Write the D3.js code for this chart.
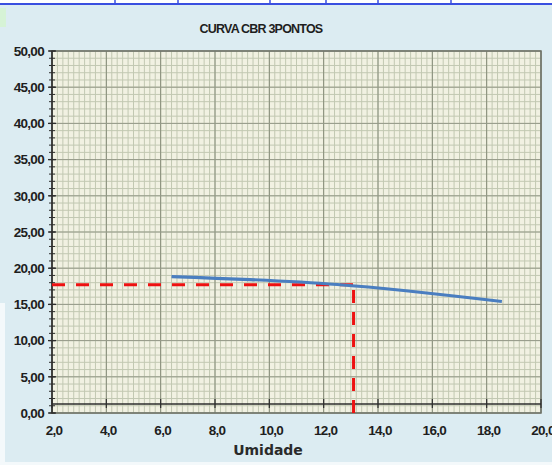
<!DOCTYPE html>
<html><head><meta charset="utf-8">
<script src="https://cdn.jsdelivr.net/npm/d3@7"></script>
<style>body{margin:0;background:#fff}svg{display:block}</style>
</head><body>
<script>
// Data
const title = "CURVA CBR 3PONTOS";
const xLabel = "Umidade";
const xTicks = [2,4,6,8,10,12,14,16,18,20];
const yTicks = [0,5,10,15,20,25,30,35,40,45,50];
const curveX = [6.4, 12.5, 18.56];
const curveY = [18.85, 17.75, 15.4];
const refX = [2, 13.1];      // horizontal dashed guide
const refY = [17.7, 17.7];
const vertX = [13.1, 13.1];  // vertical dashed guide
const vertY = [0, 17.7];
const xAxisCross = 1.25;

const W = 552, H = 465;
const svg = d3.select("body").append("svg").attr("width", W).attr("height", H);

// background
svg.append("rect").attr("width", W).attr("height", H).attr("fill", "#dcecf2");
svg.append("rect").attr("x",0).attr("y",0).attr("width",W).attr("height",4).attr("fill","#ffffff");
svg.append("rect").attr("x",0).attr("y",303).attr("width",5).attr("height",H-303).attr("fill","#f4f9fb");
svg.append("rect").attr("x",0).attr("y",462).attr("width",W).attr("height",3).attr("fill","#f4f9fb");
svg.append("rect").attr("x",0).attr("y",8).attr("width",6).attr("height",19).attr("fill","#d6f3d6");
svg.append("line").attr("x1",0).attr("x2",W).attr("y1",4).attr("y2",4).attr("stroke","#3a4fe0").attr("stroke-width",2);
[115,178,270,326,378,451].forEach(v=>svg.append("line").attr("x1",v).attr("x2",v).attr("y1",0).attr("y2",4).attr("stroke","#3a4fe0").attr("stroke-width",1.5));

const x = d3.scaleLinear().domain([2,20]).range([52,541]);
const y = d3.scaleLinear().domain([0,50]).range([413,51]);

const g = svg.append("g");
g.append("rect").attr("x",x(2)).attr("y",y(50)).attr("width",x(20)-x(2)).attr("height",y(0)-y(50)).attr("fill","#f1f1e2");

// minor grid
const xMinor = d3.range(2, 20.0001, 0.2);
const yMinor = d3.range(0, 50.0001, 1);
g.selectAll(".vx").data(xMinor).join("line")
  .attr("x1",d=>x(d)).attr("x2",d=>x(d)).attr("y1",y(0)).attr("y2",y(50))
  .attr("stroke","#c2c8b2").attr("stroke-width",1);
g.selectAll(".hy").data(yMinor).join("line")
  .attr("x1",x(2)).attr("x2",x(20)).attr("y1",d=>y(d)).attr("y2",d=>y(d))
  .attr("stroke","#c2c8b2").attr("stroke-width",1);
// major grid
g.selectAll(".vX").data(xTicks).join("line")
  .attr("x1",d=>x(d)).attr("x2",d=>x(d)).attr("y1",y(0)).attr("y2",y(50))
  .attr("stroke","#868c7a").attr("stroke-width",1);
g.selectAll(".hY").data(yTicks).join("line")
  .attr("x1",x(2)).attr("x2",x(20)).attr("y1",d=>y(d)).attr("y2",d=>y(d))
  .attr("stroke","#959a89").attr("stroke-width",1);
// border
g.append("rect").attr("x",x(2)).attr("y",y(50)).attr("width",x(20)-x(2)).attr("height",y(0)-y(50))
  .attr("fill","none").attr("stroke","#6d7268").attr("stroke-width",1.5);

// x axis line crossing
g.append("line").attr("x1",x(2)).attr("x2",x(20)).attr("y1",y(xAxisCross)).attr("y2",y(xAxisCross))
  .attr("stroke","#2e2e2e").attr("stroke-width",1.5);
g.selectAll(".xt").data(xTicks).join("line")
  .attr("x1",d=>x(d)).attr("x2",d=>x(d)).attr("y1",y(xAxisCross)-5).attr("y2",y(xAxisCross)+4)
  .attr("stroke","#2e2e2e").attr("stroke-width",1.2);
// y axis line
g.append("line").attr("x1",x(2)).attr("x2",x(2)).attr("y1",y(0)).attr("y2",y(50))
  .attr("stroke","#2e2e2e").attr("stroke-width",1.5);
g.selectAll(".yt").data(yMinor).join("line")
  .attr("x1",x(2)-3).attr("x2",x(2)+3).attr("y1",d=>y(d)).attr("y2",d=>y(d))
  .attr("stroke","#2e2e2e").attr("stroke-width",1);
g.selectAll(".yT").data(yTicks).join("line")
  .attr("x1",x(2)-4).attr("x2",x(2)+4).attr("y1",d=>y(d)).attr("y2",d=>y(d))
  .attr("stroke","#2e2e2e").attr("stroke-width",1.3);

// labels
const fmtY = d => d.toFixed(2).replace(".", ",");
const fmtX = d => d.toFixed(1).replace(".", ",");
svg.selectAll(".yl").data(yTicks).join("text")
  .attr("x",44).attr("y",d=>y(d)).attr("dy","0.36em").attr("text-anchor","end")
  .attr("font-family","Liberation Sans, Arial, sans-serif").attr("font-weight","bold")
  .attr("font-size",13.5).attr("letter-spacing","-0.7").attr("fill","#1e1e1e").text(fmtY);
svg.selectAll(".xl").data(xTicks).join("text")
  .attr("x",d=>x(d)+2).attr("y",430).attr("dy","0.36em").attr("text-anchor","middle")
  .attr("font-family","Liberation Sans, Arial, sans-serif").attr("font-weight","bold")
  .attr("font-size",13.5).attr("letter-spacing","-0.7").attr("fill","#1e1e1e").text(fmtX);
svg.append("text").attr("x",268).attr("y",455).attr("text-anchor","middle")
  .attr("font-family","DejaVu Sans, Verdana, sans-serif").attr("font-weight","bold")
  .attr("font-size",14).attr("fill","#2a2a2a").text(xLabel);
svg.append("text").attr("x",261).attr("y",33).attr("text-anchor","middle")
  .attr("font-family","Liberation Sans, Arial, sans-serif").attr("font-weight","bold")
  .attr("font-size",12.5).attr("letter-spacing","-0.8").attr("fill","#1e1e1e").text(title);

// dashed guides
const line = d3.line().x(d=>x(d[0])).y(d=>y(d[1]));
g.append("path").attr("d", line(d3.zip(refX, refY)))
  .attr("fill","none").attr("stroke","#ee1111").attr("stroke-width",3).attr("stroke-dasharray","13,11");
g.append("path").attr("d", line(d3.zip(vertX, vertY)))
  .attr("fill","none").attr("stroke","#ee1111").attr("stroke-width",3).attr("stroke-dasharray","13,9");

// curve
g.append("path").attr("d", d3.line().curve(d3.curveNatural).x(d=>x(d[0])).y(d=>y(d[1]))(d3.zip(curveX, curveY)))
  .attr("fill","none").attr("stroke","#4a7ec0").attr("stroke-width",3.2).attr("stroke-linecap","butt");
</script>
</body></html>
